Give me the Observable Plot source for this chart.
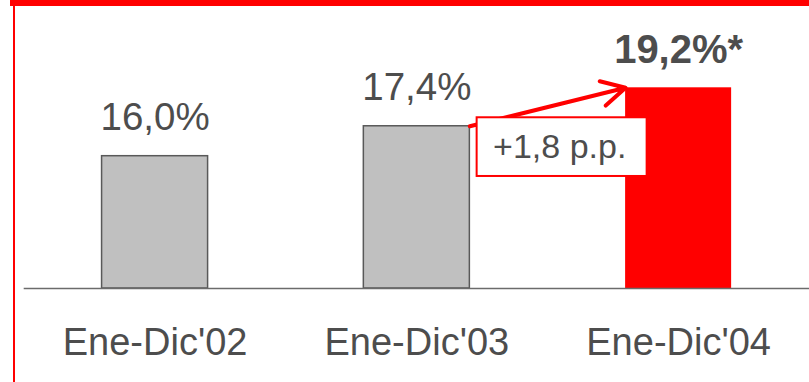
<!DOCTYPE html>
<html>
<head>
<meta charset="utf-8">
<script src="https://cdn.jsdelivr.net/npm/d3@7"></script>
<script src="https://cdn.jsdelivr.net/npm/@observablehq/plot@0.6"></script>
<style>
  html, body { margin: 0; padding: 0; background: #ffffff; overflow: hidden; }
  #wrap { position: relative; width: 809px; height: 382px; }
  #topband { position: absolute; left: 10px; top: 0; width: 799px; height: 5.5px; background: #ff0000; }
  #leftline { position: absolute; left: 12.5px; top: 0; width: 2px; height: 382px; background: #ff0000; }
  svg { display: block; }
</style>
</head>
<body>
<div id="wrap">
  <div id="chart"></div>
  <div id="topband"></div>
  <div id="leftline"></div>
</div>
<script>
// ---- data ----
const categories = ["Ene-Dic'02", "Ene-Dic'03", "Ene-Dic'04"];
const values = [16.0, 17.4, 19.2];
const valueLabels = ["16,0%", "17,4%", "19,2%*"];
const highlight = [false, false, true];
const deltaLabel = "+1,8 p.p.";
const yMin = 9.81; // value at the chart's baseline (axis does not start at zero)

// ---- styling / layout ----
const RED = "#ff0000";
const GRAY = "#c0c0c0";
const TEXT = "#4d4d4d";
const HW = 0.2025; // half bar width in category-index units
const FONT = "'Liberation Sans', Arial, Helvetica, sans-serif";

const data = categories.map((c, i) => ({
  i, category: c, value: values[i], label: valueLabels[i], highlight: highlight[i]
}));
const normal = data.filter(d => !d.highlight);
const hi = data.filter(d => d.highlight);

const chart = Plot.plot({
  width: 809,
  height: 382,
  marginLeft: 23.7,
  marginRight: 0,
  marginTop: 0,
  marginBottom: 94,
  style: { fontFamily: FONT, background: "transparent", overflow: "visible" },
  x: { type: "linear", domain: [-0.5, 2.5], axis: null, label: null },
  y: { domain: [yMin, values[2]], range: [288, 87.3], axis: null, label: null },
  marks: [
    Plot.rect(normal, {
      x1: d => d.i - HW, x2: d => d.i + HW, y1: yMin, y2: "value",
      fill: GRAY, stroke: "#595959", strokeWidth: 1.5
    }),
    Plot.rect(hi, {
      x1: d => d.i - HW, x2: d => d.i + HW, y1: yMin, y2: "value",
      fill: RED
    }),
    Plot.ruleY([yMin], { stroke: "#6b6b6b", strokeWidth: 1.5 }),
    Plot.text(normal, {
      x: "i", y: "value", text: "label", lineAnchor: "bottom", dy: -26.5,
      fontSize: 38.5, fill: TEXT
    }),
    Plot.text(hi, {
      x: "i", y: "value", text: "label", lineAnchor: "bottom", dy: -24.6,
      fontSize: 40, fontWeight: "bold", fill: TEXT
    }),
    Plot.axisX({
      ticks: data.map(d => d.i),
      tickFormat: i => categories[i],
      tickSize: 0, tickPadding: 40,
      label: null,
      fontSize: 38, fill: TEXT
    }),
    Plot.arrow([deltaLabel], {
      x1: 1 + HW, y1: values[1], x2: 2 - HW, y2: values[2],
      stroke: RED, strokeWidth: 4, headLength: 10, headAngle: 56
    }),
    Plot.rect([deltaLabel], {
      x1: 1.5, x2: 1.5, y1: values[1], y2: values[1],
      insetLeft: -70.6, insetRight: -99.4, insetTop: -8.5, insetBottom: -50.2,
      fill: "#ffffff", stroke: RED, strokeWidth: 2
    }),
    Plot.text([deltaLabel], {
      x: 1.5, y: values[1], text: d => d, lineAnchor: "bottom", dx: 12, dy: 31.5,
      fontSize: 34, fill: TEXT
    })
  ]
});
document.getElementById("chart").appendChild(chart);
</script>
</body>
</html>
